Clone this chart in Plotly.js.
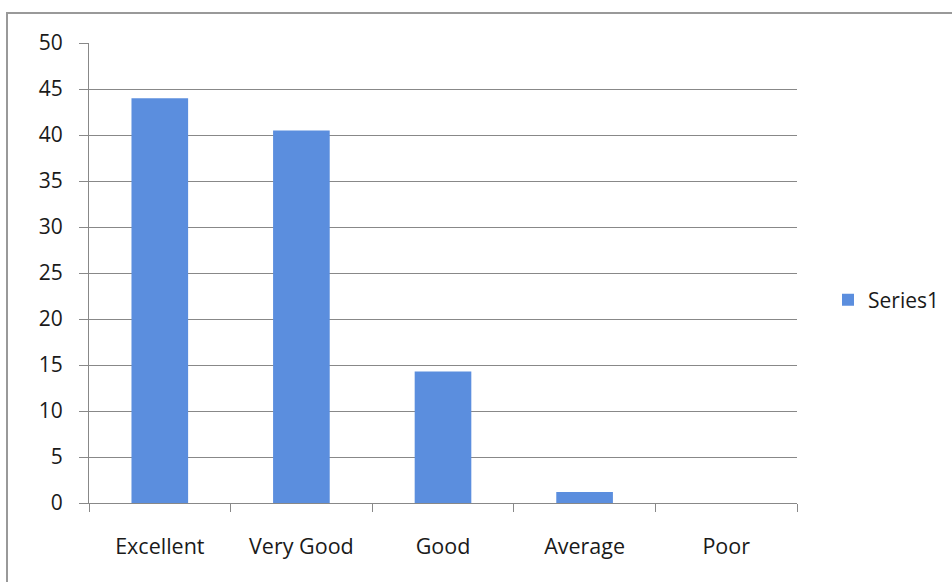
<!DOCTYPE html>
<html><head><meta charset="utf-8">
<script src="https://cdn.plot.ly/plotly-3.0.1.min.js"></script>
<style>html,body{margin:0;padding:0;background:#fff;}#chart{width:952px;height:582px;}</style>
</head><body><div id="chart"></div>
<script>
const categories = ["Excellent", "Very Good", "Good", "Average", "Poor"];
const series1 = [44, 40.5, 14.3, 1.2, 0];
const yTicks = [0, 5, 10, 15, 20, 25, 30, 35, 40, 45, 50];

const W = 952, H = 582, L = 89, R = 155, T = 43, B = 79;
const pw = W - L - R, ph = H - T - B;
const px = x => (x - L) / pw;
const py = y => (H - B - y) / ph;

const trace = {
  type: 'bar', x: categories, y: series1, name: 'Series1',
  marker: {color: '#5b8ede', line: {width: 0}},
  showlegend: true
};
const layout = {
  width: W, height: H,
  margin: {l: L, r: R, t: T, b: B},
  paper_bgcolor: '#fff', plot_bgcolor: '#fff',
  font: {family: 'Open Sans, sans-serif', size: 21, color: '#1a1a1a'},
  bargap: 0.6,
  xaxis: {
    type: 'category', tickson: 'boundaries', ticks: 'outside', ticklen: 8, tickcolor: '#888',
    showline: true, linecolor: '#888', linewidth: 1, showgrid: false,
    ticklabelstandoff: 24, tickfont: {size: 21.5, color: '#1a1a1a'}
  },
  yaxis: {
    range: [0, 50], tickvals: yTicks, ticks: 'outside', ticklen: 9, tickcolor: '#888',
    showline: true, linecolor: '#888', gridcolor: '#888', gridwidth: 1, zeroline: false,
    ticklabelstandoff: 12, tickfont: {size: 21, color: '#1a1a1a'}
  },
  showlegend: true,
  legend: {xref: 'container', yref: 'container', x: 828 / W, y: (H - 300) / H, xanchor: 'left', yanchor: 'middle',
    font: {size: 21, color: '#1a1a1a'}, itemwidth: 30, bgcolor: 'rgba(0,0,0,0)'},
  shapes: [{type: 'rect', xref: 'paper', yref: 'paper', x0: px(7), x1: px(965), y0: py(595), y1: py(13),
    line: {color: '#999', width: 2}, fillcolor: 'rgba(0,0,0,0)', layer: 'below'}]
};
Plotly.newPlot('chart', [trace], layout, {displayModeBar: false, staticPlot: true});
</script></body></html>
